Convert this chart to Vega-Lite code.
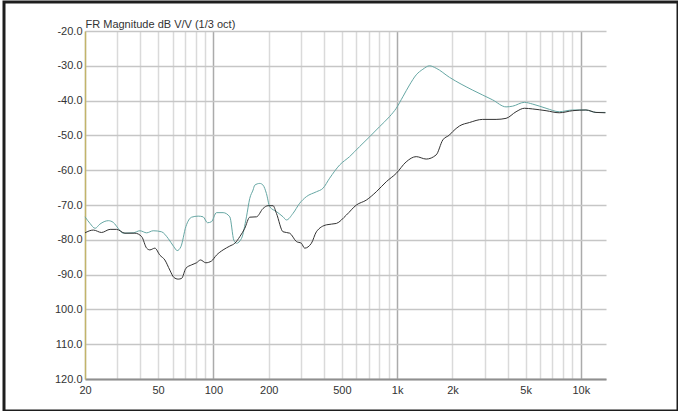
{
  "$schema": "https://vega.github.io/schema/vega-lite/v6.json",
  "width": 674,
  "height": 409,
  "autosize": {"type": "none"},
  "padding": {"left": 4, "top": 2, "right": 0, "bottom": 0},
  "background": "white",
  "config": {
    "view": {"stroke": "#1e1e1e", "strokeWidth": 3},
    "axis": {"labelFont": "Liberation Sans", "labelFontSize": 11, "labelColor": "#333333", "titleFont": "Liberation Sans"}
  },
  "data": {"values": [
    {"s":"T","f":20,"db":-73.4},{"s":"T","f":21.3,"db":-75.3},{"s":"T","f":22.7,"db":-76.7},{"s":"T","f":24.1,"db":-75.5},
    {"s":"T","f":26.8,"db":-74.5},{"s":"T","f":28.5,"db":-75.0},{"s":"T","f":30.3,"db":-76.7},{"s":"T","f":32.3,"db":-78.1},
    {"s":"T","f":36.6,"db":-78.0},{"s":"T","f":39.8,"db":-77.4},{"s":"T","f":43.3,"db":-78.0},{"s":"T","f":47.0,"db":-77.4},
    {"s":"T","f":52.2,"db":-77.7},{"s":"T","f":56.7,"db":-79.6},{"s":"T","f":60.9,"db":-82.0},{"s":"T","f":63.5,"db":-83.1},
    {"s":"T","f":66.5,"db":-82.0},{"s":"T","f":70.8,"db":-76.2},{"s":"T","f":76.1,"db":-73.5},{"s":"T","f":82.6,"db":-73.2},
    {"s":"T","f":87.9,"db":-73.4},{"s":"T","f":92.9,"db":-75.1},{"s":"T","f":97.6,"db":-74.8},{"s":"T","f":103.9,"db":-72.2},
    {"s":"T","f":112.9,"db":-72.2},{"s":"T","f":122.8,"db":-73.4},{"s":"T","f":129.1,"db":-80.1},{"s":"T","f":133.5,"db":-81.0},
    {"s":"T","f":142.2,"db":-79.6},{"s":"T","f":151.3,"db":-73.4},{"s":"T","f":157.7,"db":-68.1},{"s":"T","f":164.3,"db":-65.7},
    {"s":"T","f":167.9,"db":-64.3},{"s":"T","f":178.8,"db":-63.8},{"s":"T","f":186.3,"db":-64.3},{"s":"T","f":194.3,"db":-66.7},
    {"s":"T","f":202.5,"db":-70.5},{"s":"T","f":220.3,"db":-71.9},{"s":"T","f":239.3,"db":-73.4},{"s":"T","f":249.7,"db":-74.3},
    {"s":"T","f":271.2,"db":-72.4},{"s":"T","f":294.8,"db":-69.5},{"s":"T","f":320.6,"db":-67.6},{"s":"T","f":363.4,"db":-66.2},
    {"s":"T","f":394.6,"db":-65.2},{"s":"T","f":429.1,"db":-62.3},{"s":"T","f":486.5,"db":-58.5},{"s":"T","f":551,"db":-56.1},
    {"s":"T","f":625,"db":-53.2},{"s":"T","f":708,"db":-50.4},{"s":"T","f":802,"db":-47.5},{"s":"T","f":909,"db":-44.6},
    {"s":"T","f":989,"db":-42.2},{"s":"T","f":1074,"db":-38.9},{"s":"T","f":1168,"db":-35.5},{"s":"T","f":1270,"db":-32.6},
    {"s":"T","f":1380,"db":-31.0},{"s":"T","f":1500,"db":-30.0},{"s":"T","f":1631,"db":-30.7},{"s":"T","f":1925,"db":-33.3},
    {"s":"T","f":2579,"db":-37.0},{"s":"T","f":2921,"db":-38.4},{"s":"T","f":3311,"db":-39.8},{"s":"T","f":3915,"db":-41.8},
    {"s":"T","f":4253,"db":-41.6},{"s":"T","f":4925,"db":-40.5},{"s":"T","f":5464,"db":-41.0},{"s":"T","f":6463,"db":-42.2},
    {"s":"T","f":7630,"db":-43.2},{"s":"T","f":9015,"db":-42.7},{"s":"T","f":10655,"db":-42.7},{"s":"T","f":12079,"db":-43.4},
    {"s":"T","f":13600,"db":-43.4},
    {"s":"B","f":20,"db":-78.0},{"s":"B","f":22.2,"db":-77.2},{"s":"B","f":24.6,"db":-77.9},{"s":"B","f":27.4,"db":-77.0},
    {"s":"B","f":29.7,"db":-77.0},{"s":"B","f":33.0,"db":-78.1},{"s":"B","f":37.4,"db":-78.1},{"s":"B","f":40.7,"db":-79.1},
    {"s":"B","f":43.3,"db":-82.4},{"s":"B","f":45.1,"db":-82.9},{"s":"B","f":48.0,"db":-82.4},{"s":"B","f":51.1,"db":-84.4},
    {"s":"B","f":54.4,"db":-85.8},{"s":"B","f":57.9,"db":-88.7},{"s":"B","f":60.9,"db":-90.8},{"s":"B","f":64.3,"db":-91.3},
    {"s":"B","f":67.1,"db":-91.1},{"s":"B","f":70.8,"db":-88.2},{"s":"B","f":76.1,"db":-87.2},{"s":"B","f":80.9,"db":-86.6},
    {"s":"B","f":85.1,"db":-85.8},{"s":"B","f":90.9,"db":-86.6},{"s":"B","f":97.6,"db":-86.1},{"s":"B","f":103.9,"db":-84.4},
    {"s":"B","f":112.9,"db":-82.9},{"s":"B","f":122.8,"db":-81.8},{"s":"B","f":130.7,"db":-81.0},{"s":"B","f":139.2,"db":-79.1},
    {"s":"B","f":148.1,"db":-76.7},{"s":"B","f":157.7,"db":-73.5},{"s":"B","f":171.5,"db":-73.4},{"s":"B","f":186.3,"db":-71.0},
    {"s":"B","f":198.3,"db":-70.2},{"s":"B","f":211.1,"db":-70.2},{"s":"B","f":220.3,"db":-72.4},{"s":"B","f":239.3,"db":-77.7},
    {"s":"B","f":260.1,"db":-78.1},{"s":"B","f":282.9,"db":-80.5},{"s":"B","f":301.1,"db":-81.0},{"s":"B","f":313.8,"db":-82.4},
    {"s":"B","f":341.4,"db":-81.0},{"s":"B","f":363.4,"db":-77.7},{"s":"B","f":411.8,"db":-75.7},{"s":"B","f":466.8,"db":-75.3},
    {"s":"B","f":529,"db":-72.9},{"s":"B","f":600,"db":-70.0},{"s":"B","f":679,"db":-68.6},{"s":"B","f":770,"db":-66.2},
    {"s":"B","f":873,"db":-63.3},{"s":"B","f":989,"db":-60.9},{"s":"B","f":1120,"db":-57.6},{"s":"B","f":1270,"db":-56.1},
    {"s":"B","f":1439,"db":-56.8},{"s":"B","f":1631,"db":-55.6},{"s":"B","f":1772,"db":-51.3},{"s":"B","f":1925,"db":-49.9},
    {"s":"B","f":2007,"db":-48.9},{"s":"B","f":2183,"db":-47.3},{"s":"B","f":2475,"db":-46.3},{"s":"B","f":2921,"db":-45.4},
    {"s":"B","f":3456,"db":-45.4},{"s":"B","f":3915,"db":-45.1},{"s":"B","f":4438,"db":-43.2},{"s":"B","f":4925,"db":-42.2},
    {"s":"B","f":5464,"db":-42.4},{"s":"B","f":6463,"db":-42.9},{"s":"B","f":7630,"db":-43.5},{"s":"B","f":9015,"db":-42.9},
    {"s":"B","f":10655,"db":-42.7},{"s":"B","f":12079,"db":-43.4},{"s":"B","f":13600,"db":-43.5}
  ]},
  "encoding": {
    "y": {
      "field": "db", "type": "quantitative",
      "scale": {"domain": [-120, -20], "range": [377, 29], "zero": false, "nice": false},
      "axis": {
        "orient": "left", "offset": -81,
        "values": [-120, -110, -100, -90, -80, -70, -60, -50, -40, -30, -20],
        "labelExpr": "(datum.value > -100 ? '-' : '') + format(abs(datum.value), '.1f')",
        "grid": true, "gridColor": "#c6c6c6", "gridWidth": 1.5,
        "domain": true, "domainColor": "#c2b46a", "domainWidth": 1.5,
        "ticks": false, "tickSize": 0, "labelPadding": 3,
        "title": "FR Magnitude dB V/V (1/3 oct)",
        "titleAngle": 0, "titleX": 0, "titleY": 25.5, "titleAlign": "left", "titleBaseline": "alphabetic",
        "titleFontSize": 11, "titleFontWeight": "normal", "titleColor": "#333333", "titlePadding": 0
      }
    }
  },
  "layer": [
    {
      "transform": [{"filter": "datum.s == 'T'"}],
      "mark": {"type": "line", "color": "#66a7a4", "strokeWidth": 1, "interpolate": "monotone"},
      "encoding": {
        "x": {
          "field": "f", "type": "quantitative",
          "scale": {"type": "log", "domain": [20, 13700], "range": [81, 602], "nice": false},
          "axis": {
            "orient": "top", "offset": 0,
            "values": [20,30,40,50,60,70,80,90,100,200,300,400,500,600,700,800,900,1000,2000,3000,4000,5000,6000,7000,8000,9000,10000],
            "labels": false, "ticks": false, "tickSize": 0, "domain": false, "title": null,
            "grid": true,
            "gridColor": {"condition": {"test": "datum.value == 100 || datum.value == 1000 || datum.value == 10000", "value": "#ababab"}, "value": "#dadada"},
            "gridWidth": 1.5
          }
        }
      }
    },
    {
      "transform": [{"filter": "datum.s == 'B'"}],
      "mark": {"type": "line", "color": "#333333", "strokeWidth": 1, "interpolate": "monotone"},
      "encoding": {
        "x": {
          "field": "f", "type": "quantitative",
          "scale": {"type": "log", "domain": [20, 13700], "range": [81, 602], "nice": false},
          "axis": {
            "orient": "bottom", "offset": -32,
            "values": [20,30,40,50,60,70,80,90,100,200,300,400,500,600,700,800,900,1000,2000,3000,4000,5000,6000,7000,8000,9000,10000],
            "labelExpr": "(datum.value == 20 || datum.value == 50 || datum.value == 100 || datum.value == 200 || datum.value == 500) ? ('' + datum.value) : ((datum.value == 1000 || datum.value == 2000 || datum.value == 5000 || datum.value == 10000) ? ((datum.value / 1000) + 'k') : '')",
            "labelFlush": false, "labelOverlap": false, "labelBound": false, "labelPadding": 5,
            "ticks": false, "tickSize": 0, "grid": false, "title": null,
            "domain": true, "domainColor": "#8f8f8f", "domainWidth": 2
          }
        }
      }
    }
  ],
  "resolve": {"axis": {"x": "independent"}}
}
